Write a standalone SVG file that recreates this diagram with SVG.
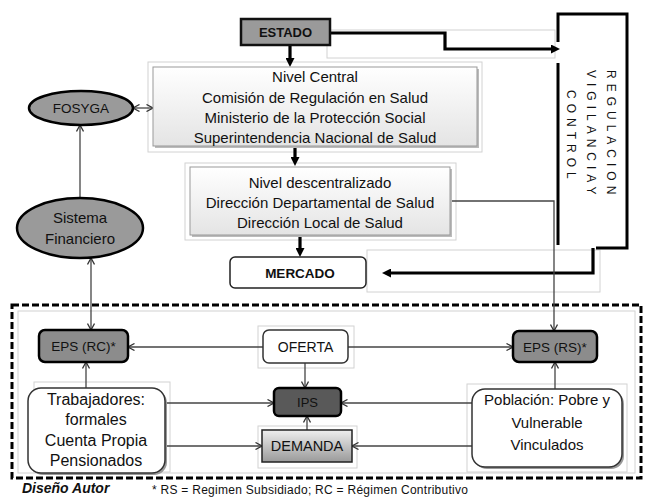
<svg xmlns="http://www.w3.org/2000/svg" width="646" height="499" viewBox="0 0 646 499">
<defs>
<linearGradient id="gWhite" x1="0" y1="0" x2="0" y2="1"><stop offset="0" stop-color="#ffffff"/><stop offset="1" stop-color="#e4e4e4"/></linearGradient>
<linearGradient id="gDem" x1="0" y1="0" x2="0" y2="1"><stop offset="0" stop-color="#eeeeee"/><stop offset="1" stop-color="#9a9a9a"/></linearGradient>
<marker id="oa" viewBox="0 0 8 8" refX="7" refY="4" markerWidth="8" markerHeight="8" markerUnits="userSpaceOnUse" orient="auto-start-reverse"><path d="M0.5,0.5 L7,4 L0.5,7.5" fill="none" stroke="#333" stroke-width="1.3"/></marker>
<marker id="ta" viewBox="0 0 9 9" refX="3" refY="4.5" markerWidth="9" markerHeight="9" markerUnits="userSpaceOnUse" orient="auto"><path d="M0,0 L9,4.5 L0,9 z" fill="#000"/></marker>
</defs>
<style>
text{font-family:"Liberation Sans",Arial,sans-serif;fill:#111;text-anchor:middle}
.b{font-weight:bold}
.thin{fill:none;stroke:#444;stroke-width:1.3}
.thick{fill:none;stroke:#000;stroke-width:3.2}
.faint{fill:none;stroke:#d2d2d2;stroke-width:1}
.vt{font-size:12px;letter-spacing:5px;text-anchor:start;fill:#111}
</style>
<rect width="646" height="499" fill="#fff"/>

<!-- faint frames -->
<g id="frames">
<rect class="faint" x="327" y="30" width="228" height="28"/>
<rect class="faint" x="148" y="62" width="334" height="90"/>
<rect class="faint" x="185" y="163" width="271" height="77"/>
<rect class="faint" x="367" y="250" width="233" height="42"/>
<rect class="faint" x="258" y="326" width="96" height="42"/>
<rect class="faint" x="258" y="426" width="99" height="42"/>
<rect class="faint" x="34" y="382" width="136" height="90"/>
<rect class="faint" x="467" y="384" width="160" height="88"/>
<rect class="faint" x="18" y="311" width="617" height="162"/>
</g>

<!-- dashed boundary -->
<g id="boundary">
<rect x="12" y="305" width="629" height="173" fill="none" stroke="#000" stroke-width="3" stroke-dasharray="7 3"/>
</g>

<!-- REGULACION box -->
<g id="regulacion">
<path d="M558,42 V14 H627 V248 H596" fill="none" stroke="#000" stroke-width="3"/>
<path d="M558,63 V245" fill="none" stroke="#000" stroke-width="3"/>
<text class="vt" transform="translate(607,70) rotate(90)">REGULACION</text>
<text class="vt" transform="translate(587,70) rotate(90)">VIGILANCIAY</text>
<text class="vt" transform="translate(567,90) rotate(90)">CONTROL</text>
</g>

<g id="connectors">
<path class="thick" d="M330,33 H445 V49 H554" marker-end="url(#ta)"/>
<path class="thick" d="M290,45 V61" marker-end="url(#ta)"/>
<path class="thick" d="M295,146 V160" marker-end="url(#ta)"/>
<path class="thick" d="M300,235 V251" marker-end="url(#ta)"/>
<path class="thick" d="M593,248 V273 H388" marker-end="url(#ta)"/>
<path class="thin" d="M450,201 H554 V331" marker-end="url(#oa)"/>
<path class="thin" d="M133,108 H153" marker-start="url(#oa)" marker-end="url(#oa)"/>
<path class="thin" d="M80,198 V125" marker-end="url(#oa)"/>
<path class="thin" d="M91,258 V330" marker-start="url(#oa)" marker-end="url(#oa)"/>
<path class="thin" d="M263,347 H128" marker-end="url(#oa)"/>
<path class="thin" d="M348,347 H513" marker-end="url(#oa)"/>
<path class="thin" d="M305,363 V388" marker-end="url(#oa)"/>
<path class="thin" d="M307,430 V416" marker-end="url(#oa)"/>
<path class="thin" d="M86,388 V362" marker-end="url(#oa)"/>
<path class="thin" d="M165,403 H274" marker-end="url(#oa)"/>
<path class="thin" d="M165,446 H262" marker-end="url(#oa)"/>
<path class="thin" d="M555,389 V362" marker-end="url(#oa)"/>
<path class="thin" d="M472,403 H341" marker-end="url(#oa)"/>
<path class="thin" d="M472,446 H352" marker-end="url(#oa)"/>
</g>

<g id="estado">
<rect x="241" y="19" width="89" height="26" fill="#9a9a9a" stroke="#111" stroke-width="2.5"/>
<text class="b" x="285.5" y="37" font-size="13">ESTADO</text>
</g>

<g id="nivel-central">
<rect x="155" y="69" width="324" height="79" fill="#bbb"/>
<rect x="153" y="67" width="324" height="79" fill="url(#gWhite)" stroke="#999" stroke-width="1"/>
<text x="315" y="82" font-size="15">Nivel Central</text>
<text x="315" y="103" font-size="15">Comisión de Regulación en Salud</text>
<text x="315" y="123" font-size="15">Ministerio de la Protección Social</text>
<text x="315" y="143" font-size="15">Superintendencia Nacional de Salud</text>
</g>

<g id="nivel-descentralizado">
<rect x="192" y="169" width="260" height="68" fill="#bbb"/>
<rect x="190" y="167" width="260" height="68" fill="url(#gWhite)" stroke="#999" stroke-width="1"/>
<text x="320" y="188" font-size="15">Nivel descentralizado</text>
<text x="320" y="208" font-size="15">Dirección Departamental de Salud</text>
<text x="320" y="228" font-size="15">Dirección Local de Salud</text>
</g>

<g id="mercado">
<rect x="230" y="257" width="136" height="31" rx="5" fill="#fff" stroke="#222" stroke-width="1.5"/>
<text class="b" x="300" y="278" font-size="13.5">MERCADO</text>
</g>

<g id="fosyga">
<ellipse cx="81" cy="108" rx="52" ry="17" fill="#9a9a9a" stroke="#000" stroke-width="2.5"/>
<text x="81" y="113" font-size="13.5">FOSYGA</text>
</g>

<g id="sistema-financiero">
<ellipse cx="80" cy="228" rx="63" ry="30" fill="#9a9a9a" stroke="#000" stroke-width="2.5"/>
<text x="80" y="223" font-size="15">Sistema</text>
<text x="80" y="244" font-size="15">Financiero</text>
</g>

<g id="eps-rc">
<rect x="39" y="330" width="89" height="32" rx="6" fill="#8c8c8c" stroke="#000" stroke-width="2.5"/>
<text x="83.5" y="351" font-size="13.5">EPS (RC)*</text>
</g>

<g id="oferta">
<rect x="263" y="330" width="85" height="33" rx="6" fill="#fff" stroke="#333" stroke-width="1.5"/>
<text x="305.5" y="352" font-size="14">OFERTA</text>
</g>

<g id="eps-rs">
<rect x="513" y="331" width="84" height="31" rx="6" fill="#8c8c8c" stroke="#000" stroke-width="2.5"/>
<text x="555" y="352" font-size="13.5">EPS (RS)*</text>
</g>

<g id="ips">
<rect x="274" y="388" width="67" height="28" rx="5" fill="#595959" stroke="#000" stroke-width="2.5"/>
<text x="307.5" y="407" font-size="13">IPS</text>
</g>

<g id="demanda">
<rect x="262" y="430" width="90" height="32" fill="url(#gDem)" stroke="#222" stroke-width="1.5"/>
<text x="307" y="451" font-size="14.5">DEMANDA</text>
</g>

<g id="trabajadores">
<rect x="30" y="390" width="137" height="85" rx="13" fill="#999"/>
<rect x="28" y="388" width="137" height="85" rx="13" fill="#fff" stroke="#333" stroke-width="1.5"/>
<text x="96" y="405" font-size="16">Trabajadores:</text>
<text x="96" y="425" font-size="16">formales</text>
<text x="96" y="446" font-size="16">Cuenta Propia</text>
<text x="96" y="466" font-size="16">Pensionados</text>
</g>

<g id="poblacion">
<rect x="474" y="391" width="150" height="78" rx="13" fill="#999"/>
<rect x="472" y="389" width="150" height="78" rx="13" fill="#fff" stroke="#333" stroke-width="1.5"/>
<text x="547" y="405" font-size="15">Población: Pobre y</text>
<text x="547" y="428" font-size="15">Vulnerable</text>
<text x="547" y="450" font-size="15">Vinculados</text>
</g>

<g id="notes">
<text x="22" y="493" font-size="14" font-weight="bold" font-style="italic" style="text-anchor:start">Diseño Autor</text>
<text x="152" y="494" font-size="12" style="text-anchor:start" textLength="316" lengthAdjust="spacing">* RS = Regimen Subsidiado; RC = Régimen Contributivo</text>
</g>
</svg>
